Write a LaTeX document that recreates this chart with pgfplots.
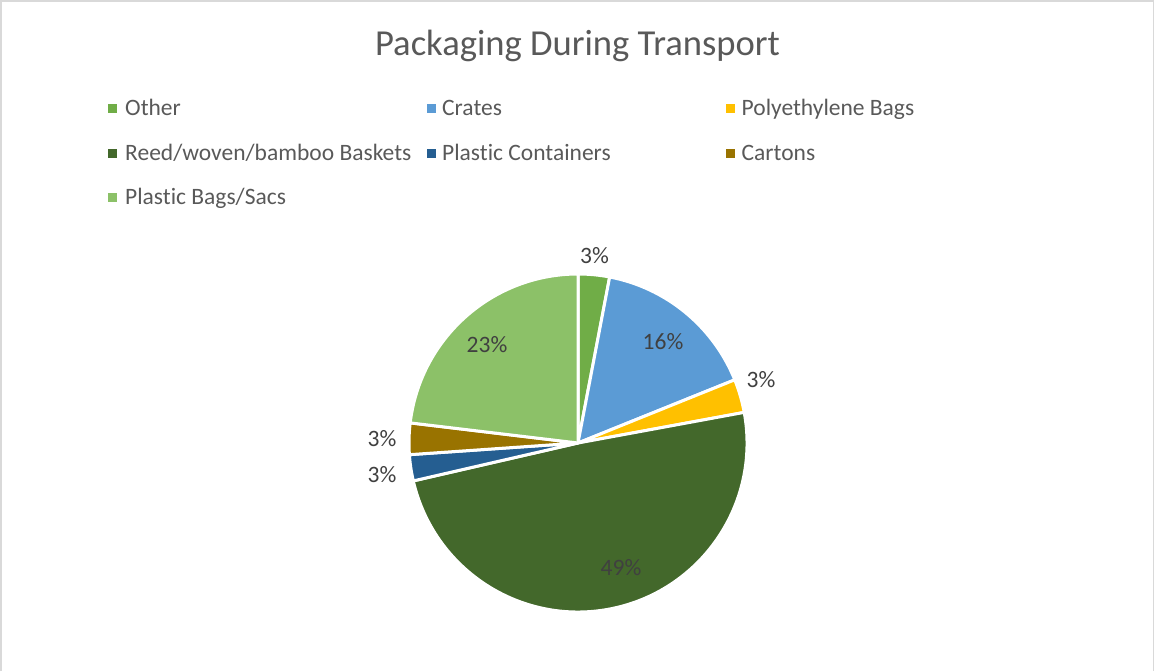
\documentclass[border=0pt]{standalone}
\usepackage{pgfplots}
\pgfplotsset{compat=1.18}
\usepackage{pgfplotstable}
\usepackage{fontspec}
\setmainfont[Ligatures=NoCommon]{Carlito}
\definecolor{cOther}{HTML}{70AD47}
\definecolor{cCrates}{HTML}{5B9BD5}
\definecolor{cPoly}{HTML}{FFC000}
\definecolor{cReed}{HTML}{43682B}
\definecolor{cCont}{HTML}{255E91}
\definecolor{cCart}{HTML}{997300}
\definecolor{cBags}{HTML}{8CC168}
\definecolor{tgray}{HTML}{595959}
\definecolor{lgray}{HTML}{404040}
\definecolor{bgray}{HTML}{D9D9D9}

% slice values (percent), rounded label, colour, label position (pixel coords, y down)
\pgfplotstableread{
name value pct col lx ly
Other 3.0 3 cOther 594.5 256
Crates 15.9 16 cCrates 663 342
Poly 3.2 3 cPoly 761 380
Reed 49.3 49 cReed 621 568
Containers 2.5 3 cCont 382 475
Cartons 3.0 3 cCart 382 439
Bags 23.1 23 cBags 487 345
}\piedata

% cumulative angles (clockwise from the top)
\def\cum{90}
\pgfplotsforeachungrouped \i in {0,...,6}{%
  \pgfplotstablegetelem{\i}{value}\of\piedata
  \pgfmathsetmacro\endang{\cum-3.6*\pgfplotsretval}%
  \expandafter\xdef\csname sa\i\endcsname{\cum}%
  \expandafter\xdef\csname ea\i\endcsname{\endang}%
  \xdef\cum{\endang}%
  \pgfplotstablegetelem{\i}{col}\of\piedata
  \expandafter\xdef\csname co\i\endcsname{\pgfplotsretval}%
}

\newcommand\lfont{\fontsize{23.5}{28}\selectfont}

\begin{document}
\begin{tikzpicture}
\begin{axis}[
  x=1pt, y=1pt, y dir=reverse,
  xmin=0, xmax=1155, ymin=0, ymax=671,
  hide axis, clip=false, scale only axis,
  /pgf/number format/assume math mode=true,
]
\path (axis cs:0,0) rectangle (axis cs:1155,671);
\draw[bgray, line width=1.5pt] (axis cs:1,671) -- (axis cs:1,1) -- (axis cs:1153.5,1) -- (axis cs:1153.5,671);

% slices
\pgfplotsforeachungrouped \i in {0,...,6}{%
  \edef\cmd{\noexpand\fill[\csname co\i\endcsname, draw=white, line width=3pt, line join=round]
    (axis cs:578,443) -- +(\csname sa\i\endcsname:169pt)
    arc[start angle=\csname sa\i\endcsname, end angle=\csname ea\i\endcsname, radius=169pt] -- cycle;}%
  \cmd
}

% data labels
\addplot[only marks, mark=*, mark size=0pt, draw=none, fill=none, point meta=explicit,
  nodes near coords={\pgfmathprintnumber{\pgfplotspointmeta}\%},
  nodes near coords align=center,
  every node near coord/.append style={font=\lfont, text=lgray, inner sep=0pt, anchor=center}]
  table[x=lx, y=ly, meta=pct]{\piedata};

% title
\node[anchor=base, text=tgray, font=\fontsize{36.6}{42}\selectfont, inner sep=0pt] at (axis cs:577.5,55) {Packaging During Transport};

% legend
\fill[cOther] (axis cs:108,103.5) rectangle (axis cs:117,112.5);
\node[anchor=base west, inner sep=0pt, text=tgray, font=\lfont] at (axis cs:125,115) {Other};
\fill[cCrates] (axis cs:426.5,103.5) rectangle (axis cs:435.5,112.5);
\node[anchor=base west, inner sep=0pt, text=tgray, font=\lfont] at (axis cs:442,115) {Crates};
\fill[cPoly] (axis cs:725.5,103.5) rectangle (axis cs:734.5,112.5);
\node[anchor=base west, inner sep=0pt, text=tgray, font=\lfont] at (axis cs:741.5,115) {Polyethylene Bags};
\fill[cReed] (axis cs:108,148.5) rectangle (axis cs:117,157.5);
\node[anchor=base west, inner sep=0pt, text=tgray, font=\lfont] at (axis cs:125,160) {Reed/woven/bamboo Baskets};
\fill[cCont] (axis cs:426.5,148.5) rectangle (axis cs:435.5,157.5);
\node[anchor=base west, inner sep=0pt, text=tgray, font=\lfont] at (axis cs:442,160) {Plastic Containers};
\fill[cCart] (axis cs:725.5,148.5) rectangle (axis cs:734.5,157.5);
\node[anchor=base west, inner sep=0pt, text=tgray, font=\lfont] at (axis cs:741.5,160) {Cartons};
\fill[cBags] (axis cs:108,192.5) rectangle (axis cs:117,201.5);
\node[anchor=base west, inner sep=0pt, text=tgray, font=\lfont] at (axis cs:125,204) {Plastic Bags/Sacs};
\end{axis}
\end{tikzpicture}
\end{document}
